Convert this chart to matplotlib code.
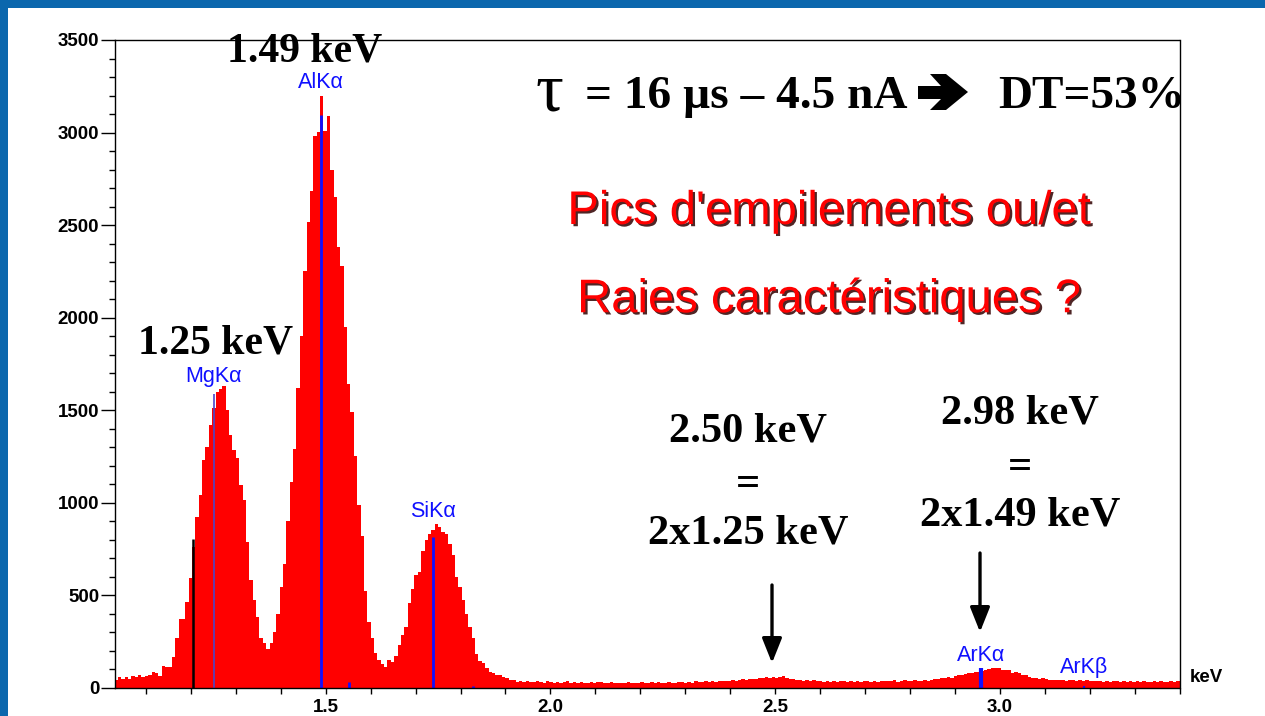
import numpy as np
import matplotlib
matplotlib.use("Agg")
import matplotlib.pyplot as plt
import matplotlib.patheffects as pe
from matplotlib.patches import Rectangle, Polygon
from matplotlib.ticker import MultipleLocator, FixedLocator, FixedFormatter

# ---------------------------------------------------------------- data
# EDS spectrum: first channel edge and channel width in keV
E_START = 1.03
CH_WIDTH = 0.0075

counts = [
    41, 56, 47, 59, 48, 63, 56, 68, 59, 65,
    66, 85, 81, 63, 117, 110, 113, 167, 270, 369,
    372, 464, 592, 760, 922, 1040, 1232, 1300, 1417, 1512,
    1600, 1612, 1631, 1498, 1363, 1283, 1240, 1096, 1012, 790,
    580, 473, 383, 270, 240, 208, 240, 300, 397, 545,
    670, 900, 1112, 1290, 1620, 1901, 2250, 2514, 2685, 2981,
    3004, 3197, 3010, 3089, 2800, 2650, 2384, 2279, 1950, 1640,
    1491, 1250, 986, 820, 520, 355, 270, 190, 150, 128,
    110, 149, 140, 170, 230, 284, 329, 460, 536, 608,
    626, 740, 797, 833, 850, 883, 868, 840, 830, 779,
    716, 600, 545, 473, 400, 329, 266, 180, 146, 131,
    104, 86, 77, 68, 70, 59, 55, 41, 44, 29,
    35, 30, 38, 32, 29, 36, 31, 27, 34, 30,
    28, 33, 26, 31, 35, 27, 30, 25, 32, 28,
    26, 30, 24, 29, 33, 27, 25, 30, 28, 23,
    27, 25, 30, 24, 28, 26, 31, 24, 27, 29,
    25, 30, 27, 24, 31, 28, 26, 33, 29, 27,
    31, 28, 34, 29, 32, 36, 30, 35, 33, 38,
    34, 38, 36, 40, 37, 42, 45, 44, 48, 46,
    49, 54, 52, 57, 55, 60, 53, 58, 65, 52,
    48, 45, 41, 43, 38, 40, 36, 39, 35, 37,
    33, 36, 32, 35, 30, 34, 37, 31, 35, 33,
    36, 32, 35, 38, 33, 36, 31, 37, 34, 38,
    35, 39, 33, 37, 40, 36, 34, 41, 38, 36,
    40, 38, 44, 45, 45, 52, 50, 57, 55, 62,
    66, 70, 73, 77, 82, 86, 84, 92, 95, 102,
    108, 105, 104, 95, 96, 93, 81, 83, 78, 68,
    66, 60, 52, 50, 48, 50, 45, 41, 43, 40,
    40, 42, 38, 41, 39, 36, 40, 37, 39, 35,
    38, 34, 37, 33, 36, 32, 35, 38, 31, 34,
    33, 36, 30, 34, 32, 35, 29, 33, 36, 31,
    34, 30, 33, 36, 31, 34,
]

# identified element lines (keV) and marker heights (counts)
line_names = ["MgKα", "AlKα", "SiKα", "ArKα", "ArKβ"]
line_energy = [1.2504, 1.4893, 1.7385, 2.958, 3.1875]
line_height = [1588, 3093, 815, 104, 8]

# secondary markers
cursor_energy = [1.2045]
cursor_height = [802]
minor_energy = [1.552, 1.828]
minor_height = [30, 10]

x_ticks = [1.5, 2.0, 2.5, 3.0]
x_tick_labels = ["1.5", "2.0", "2.5", "3.0"]
y_ticks = [0, 500, 1000, 1500, 2000, 2500, 3000, 3500]

# ---------------------------------------------------------------- figure
W, H = 1265, 716
fig = plt.figure(figsize=(W / 100, H / 100), dpi=100, facecolor="white")

BLUE_FRAME = "#0b67ad"
fig.patches.append(Rectangle((0, 1 - 8 / H), 1, 8 / H, transform=fig.transFigure,
                             facecolor=BLUE_FRAME, edgecolor="none", zorder=0))
fig.patches.append(Rectangle((0, 0), 8 / W, 1, transform=fig.transFigure,
                             facecolor=BLUE_FRAME, edgecolor="none", zorder=0))

ax_l, ax_r, ax_t, ax_b = 114.5, 1179.5, 40.0, 687.7
ax = fig.add_axes([ax_l / W, 1 - ax_b / H, (ax_r - ax_l) / W, (ax_b - ax_t) / H])
ax.set_facecolor("white")

counts_arr = np.asarray(counts, dtype=float)
edges = E_START + CH_WIDTH * np.arange(len(counts_arr) + 1)
ax.stairs(counts_arr, edges, fill=True, color="#ff0000", linewidth=0, zorder=2)

# marker lines
line_colors = ["#4b46c8", "#1010ff", "#1010ff", "#1010ff", "#1010ff"]
line_widths = [1.2, 2.0, 2.0, 3.0, 1.5]
for e, h, c, lw in zip(line_energy, line_height, line_colors, line_widths):
    ax.vlines(e, 0, h, color=c, lw=lw, zorder=3)
for e, h in zip(cursor_energy, cursor_height):
    ax.vlines(e, 0, h, color="black", lw=1.8, zorder=3)
for e, h in zip(minor_energy, minor_height):
    ax.vlines(e, 0, h, color="#1010ff", lw=2.0, zorder=3)

# element labels above the local maximum of the spectrum
centers = 0.5 * (edges[:-1] + edges[1:])
for name, e in zip(line_names, line_energy):
    near = np.abs(centers - e) < 0.02
    top = counts_arr[near].max()
    ax.annotate(name, xy=(e, top), xytext=(0, 9.5), textcoords="offset points",
                ha="center", va="center", color="#1010ff", fontsize=15.5,
                family=["Liberation Sans", "DejaVu Sans"], zorder=4)

ax.set_xlim(edges[0], 3.40)
ax.set_ylim(0, 3500)

ax.xaxis.set_major_locator(FixedLocator(x_ticks))
ax.xaxis.set_major_formatter(FixedFormatter(x_tick_labels))
ax.xaxis.set_minor_locator(MultipleLocator(0.1))
ax.yaxis.set_major_locator(FixedLocator(y_ticks))
ax.yaxis.set_minor_locator(MultipleLocator(100))

for lab in ax.get_xticklabels() + ax.get_yticklabels():
    lab.set_fontfamily("Liberation Sans")
    lab.set_fontweight("bold")
    lab.set_fontsize(13.5)

ax.tick_params(axis="y", which="major", direction="out", length=10, width=1, pad=1)
ax.tick_params(axis="y", which="minor", direction="out", length=4.3, width=1)
ax.tick_params(axis="x", which="both", direction="out", length=4.3, width=1, pad=4)
for s in ax.spines.values():
    s.set_linewidth(1.0)
    s.set_color("black")
    s.set_zorder(5)

fig.text(1190 / W, 1 - 677 / H, "keV", ha="left", va="center",
         family="Liberation Sans", weight="bold", fontsize=13.5)


def px(x, y):
    return x / W, 1 - y / H


serif = ["Liberation Serif", "DejaVu Serif"]

# peak energies
fig.text(*px(305, 52), "1.49 keV", ha="center", va="center", family=serif,
         weight="bold", fontsize=30, zorder=6)
fig.text(*px(216, 343), "1.25 keV", ha="center", va="center", family=serif,
         weight="bold", fontsize=30, zorder=6)

# sum-peak explanations
for xc, ys, lines in [(748, (432, 485, 533), ("2.50 keV", "=", "2x1.25 keV")),
                      (1020, (413, 468, 516), ("2.98 keV", "=", "2x1.49 keV"))]:
    for yc, t in zip(ys, lines):
        fig.text(*px(xc, yc), t, ha="center", va="center", family=serif,
                 weight="bold", fontsize=30.5, zorder=6)

for xa, y0, y1 in [(772, 585, 663), (980, 553, 632)]:
    ax.annotate("", xy=(xa, H - y1), xytext=(xa, H - y0),
                xycoords="figure pixels", textcoords="figure pixels",
                arrowprops=dict(arrowstyle="-|>,head_length=0.75,head_width=0.3",
                                mutation_scale=20, lw=2.4, color="black",
                                shrinkA=0, shrinkB=0), zorder=6)

# acquisition conditions
fig.text(*px(549, 94), "τ", ha="center", va="center", family=serif,
         fontsize=50, zorder=6)
fig.text(*px(585, 97), "= 16 µs – 4.5 nA", ha="left", va="center", family=serif,
         weight="bold", fontsize=34, zorder=6)
arrow_px = [(918, 86), (941, 86), (930, 74), (946, 74), (968, 92),
            (946, 110), (930, 110), (941, 99), (918, 99)]
fig.patches.append(Polygon([px(x, y) for x, y in arrow_px], closed=True,
                           transform=fig.transFigure, facecolor="black",
                           edgecolor="none", zorder=6))
fig.text(*px(998, 97), "DT=53%", ha="left", va="center", family=serif,
         weight="bold", fontsize=34, zorder=6)

# question in red with drop shadow
shadow = [pe.SimplePatchShadow(offset=(1.6, -1.6), shadow_rgbFace="#300000", alpha=0.85),
          pe.Normal()]
for yc, t in [(212, "Pics d'empilements ou/et"), (300, "Raies caractéristiques ?")]:
    fig.text(*px(829, yc), t, ha="center", va="center", color="#ff0000",
             family=["Liberation Sans", "DejaVu Sans"], fontsize=34,
             path_effects=shadow, zorder=6)

fig.savefig("out.png", dpi=100, facecolor=fig.get_facecolor())
